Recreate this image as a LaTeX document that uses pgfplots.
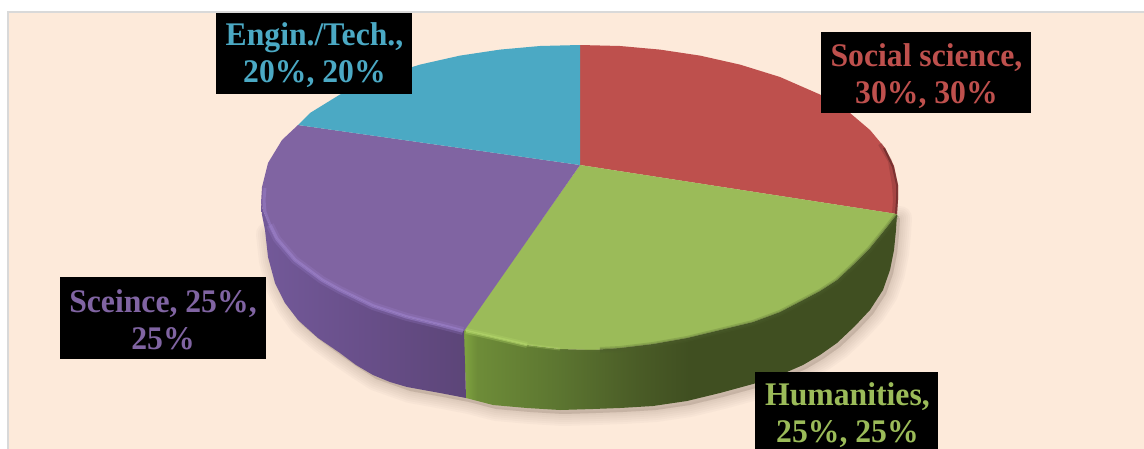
\documentclass[border=0pt]{standalone}
\usepackage{fontspec}
\setmainfont[FakeStretch=0.96]{Liberation Serif}
\usepackage{pgfplots}
\pgfplotsset{compat=1.18}
\definecolor{panel}{HTML}{FDEADA}
\definecolor{bord}{HTML}{D9D9D9}
\definecolor{cred}{HTML}{BE504D}
\definecolor{cgreen}{HTML}{9BBB59}
\definecolor{cpurple}{HTML}{8064A2}
\definecolor{ccyan}{HTML}{4BA9C4}
\definecolor{shad}{HTML}{6E5A4E}
\definecolor{hlp}{HTML}{A085D2}
\definecolor{hlg}{HTML}{B4D86A}
\pgfdeclarehorizontalshading{pside}{100bp}{
 rgb(0bp)=(0.45,0.35,0.60); rgb(25bp)=(0.45,0.35,0.60); rgb(50bp)=(0.41,0.31,0.54); rgb(75bp)=(0.36,0.27,0.47); rgb(100bp)=(0.36,0.27,0.47)}
\pgfdeclarehorizontalshading{gside}{100bp}{
 rgb(0bp)=(0.50,0.64,0.25); rgb(25bp)=(0.50,0.64,0.25); rgb(26.5bp)=(0.43,0.55,0.22); rgb(36bp)=(0.36,0.46,0.19); rgb(45bp)=(0.29,0.36,0.15); rgb(51bp)=(0.25,0.31,0.13); rgb(100bp)=(0.25,0.31,0.13)}
\newcommand{\lab}[8]{\fill[black] (axis cs:#1,#2) rectangle (axis cs:#3,#4);
 \node[text=#5,inner sep=0pt,font=\fontsize{33}{37}\selectfont\bfseries,align=center] at (axis cs:#6,#7) {#8};}
\begin{document}
\begin{tikzpicture}
\begin{axis}[
 width=1144pt,height=448pt,scale only axis,
 xmin=0,xmax=1144,ymin=0,ymax=448,y dir=reverse,
 axis lines=none,clip=true,
 axis background/.style={fill=white}]
% panel
\addplot[fill=panel,draw=bord,line width=2.2pt] coordinates {(8,12) (1160,12) (1160,460) (8,460)} -- cycle;
% soft shadow
\foreach \wd in {24,20,16,12,8,4}{
\edef\tmp{\noexpand\addplot[draw=shad,draw opacity=0.035,line width=\wd pt,line join=round,fill=shad,fill opacity=0.035] coordinates {(900,218) (899,234) (897,254) (893,274) (886,294) (873,314) (858,330) (840,347) (823,359) (806,369) (790,376) (773,383) (756,388) (723,397) (690,405) (656,410) (623,412) (596,413) (563,414) (530,412) (496,409) (469,402) (443,397) (410,391) (393,385) (376,379) (359,368) (343,357) (321,341) (301,324) (288,306) (278,287) (271,261) (268,234)} -- cycle;}
\tmp
}
% side: green
\addplot[shade,shading=gside,draw=none] coordinates {(897,214) (887,227) (870,248) (853,265) (837,280) (820,291) (803,300) (780,312) (753,322) (720,330) (687,338) (653,344) (620,348) (593,350) (560,349) (527,345) (493,337) (464,330) (466,398) (493,405) (527,408) (560,410) (593,409) (620,408) (653,406) (687,401) (720,393) (753,384) (770,379) (787,372) (803,365) (820,355) (837,343) (855,326) (870,310) (883,290) (890,270) (894,250) (896,230)} -- cycle;
% side: purple
\addplot[shade,shading=pside,draw=none] coordinates {(464,330) (440,325) (407,317) (373,306) (340,290) (322,280) (295,260) (275,237) (263,210) (261,203) (262,215) (265,230) (268,257) (275,283) (285,303) (298,320) (318,338) (340,353) (356,365) (373,375) (390,382) (407,387) (440,393) (466,398)} -- cycle;
% top: red
\addplot[fill=cred,draw=none] coordinates {(580,165) (580,45) (620,46) (660,49.6) (700,55.6) (740,64.6) (780,77) (820,94.5) (850,113) (870,130) (885,148) (894,166) (898,185) (898,200) (897,214)} -- cycle;
% top: green
\addplot[fill=cgreen,draw=none] coordinates {(580,165) (897,214) (887,227) (870,248) (853,265) (837,280) (820,291) (803,300) (780,312) (753,322) (720,330) (687,338) (653,344) (620,348) (593,350) (560,349) (527,345) (493,337) (464,330)} -- cycle;
% top: purple
\addplot[fill=cpurple,draw=none] coordinates {(580,165) (464,331) (440,325) (407,317) (373,306) (340,290) (322,280) (295,260) (275,237) (263,210) (261,203) (262,187) (268,163) (282,140) (298,125)} -- cycle;
% top: cyan
\addplot[fill=ccyan,draw=none] coordinates {(580,165) (298,125) (310,113) (340,94.5) (380,77) (420,64.6) (460,55.6) (500,49.6) (540,46) (580,45)} -- cycle;
% bevel: purple highlight
\addplot[draw=hlp,opacity=.22,line width=8pt] coordinates {(463,331) (440,325) (407,317) (373,306) (340,290) (322,280) (295,260) (277,239) (270,225)};
\addplot[draw=hlp,opacity=.5,line width=3.5pt] coordinates {(463,331) (440,325) (407,317) (373,306) (340,290) (322,280) (295,260) (277,239) (270,225)};
\addplot[draw=hlp,opacity=.4,line width=3pt] coordinates {(270,225) (265,212) (264,200) (265,188)};
% bevel: green edge
\addplot[draw=cgreen!50!black,opacity=.22,line width=6pt] coordinates {(600,350) (620,349) (653,345) (687,339) (720,331) (753,323) (780,313) (803,301) (820,292) (837,281) (853,266) (870,249) (887,228) (897,215)};
\addplot[draw=cgreen!50!black,opacity=.35,line width=3pt] coordinates {(600,350) (620,349) (653,345) (687,339) (720,331) (753,323) (780,313) (803,301) (820,292) (837,281) (853,266) (870,249) (887,228) (897,215)};
\addplot[draw=hlg,opacity=.3,line width=6pt] coordinates {(466,331) (493,337) (527,345)};
\addplot[draw=hlg,opacity=.6,line width=2.5pt] coordinates {(466,331) (493,337) (527,345)};
\addplot[draw=hlg,opacity=.3,line width=3pt] coordinates {(527,345) (560,349)};
\addplot[draw=cgreen!60!black,opacity=.2,line width=3pt] coordinates {(560,350) (600,350)};
% red rim
\addplot[draw=cred!50!black,opacity=.25,line width=4pt] coordinates {(880,144) (890,161) (894,185) (895,200) (894,213)};
\addplot[draw=cred!45!black,opacity=.6,line width=2pt] coordinates {(884,148) (893,167) (897,185) (897,200) (896,214)};
% labels
\lab{216}{13}{412}{94}{ccyan}{314.5}{55.5}{Engin./Tech.,\\20\%, 20\%}
\lab{821}{32}{1031}{113}{cred}{926.5}{76}{Social science,\\30\%, 30\%}
\lab{60}{277}{266}{359}{cpurple}{163}{319.5}{Sceince, 25\%,\\25\%}
\lab{755}{372}{938}{460}{cgreen}{847.5}{415.5}{Humanities,\\25\%, 25\%}
\end{axis}
\end{tikzpicture}
\end{document}
